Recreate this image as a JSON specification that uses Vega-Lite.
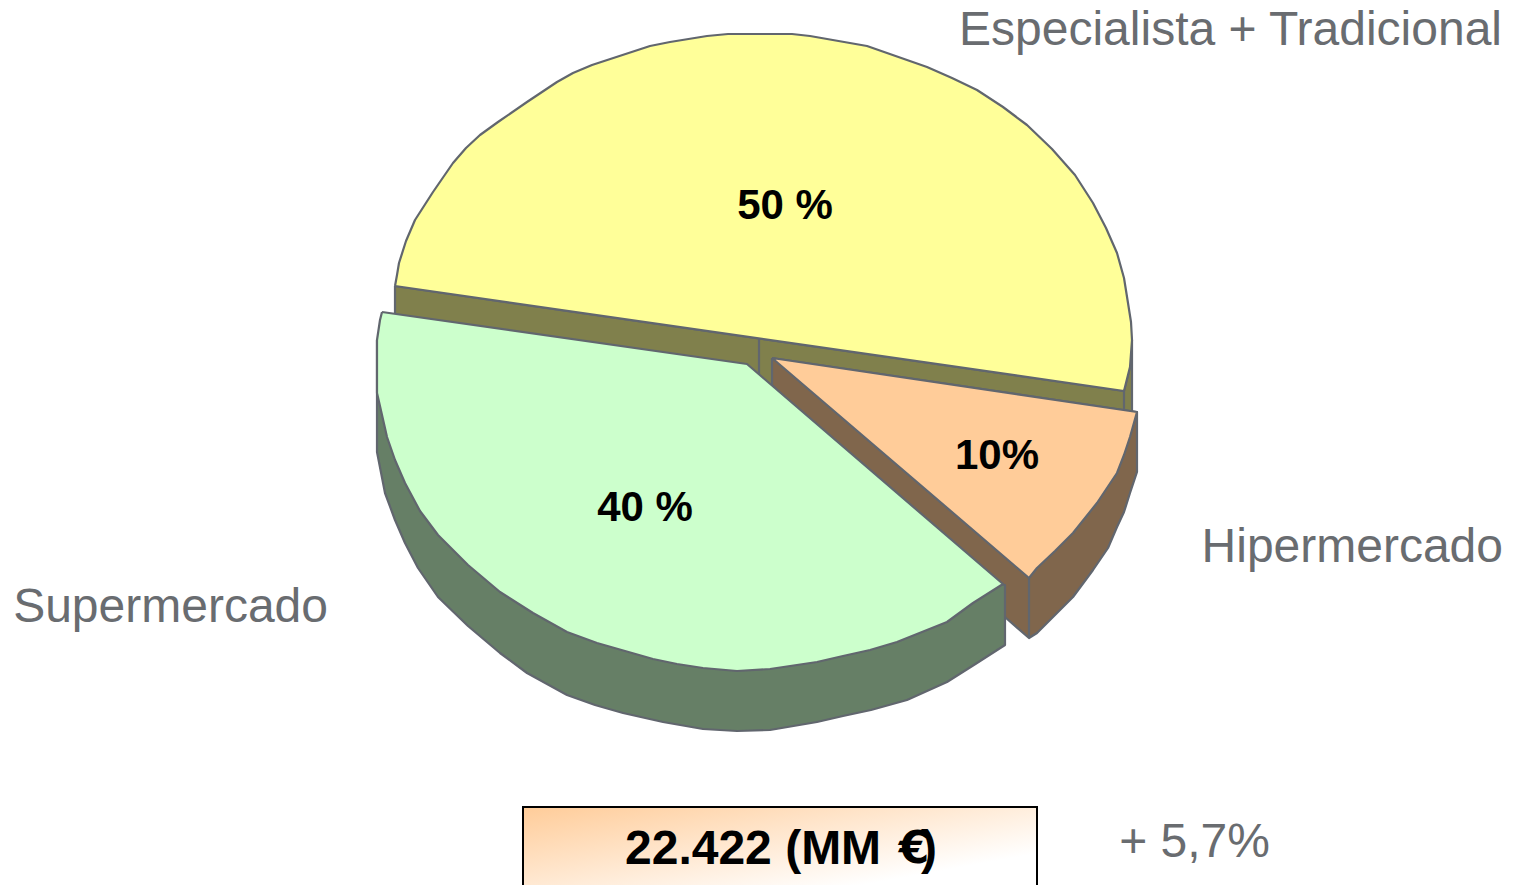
{
"$schema":"https://vega.github.io/schema/vega-lite/v6.json",
"width":1518,"height":885,"padding":0,
"autosize":{"type":"fit","contains":"padding"},
"background":"#ffffff",
"view":{"stroke":null},
"datasets":{
"outlines":[
{"part":"a_yellow_side","seq":1,"x":395,"y":286},{"part":"a_yellow_side","seq":2,"x":1124,"y":391},{"part":"a_yellow_side","seq":3,"x":1130,"y":367},{"part":"a_yellow_side","seq":4,"x":1132,"y":340},{"part":"a_yellow_side","seq":5,"x":1132,"y":415},{"part":"a_yellow_side","seq":6,"x":771,"y":390},{"part":"a_yellow_side","seq":7,"x":759,"y":385},{"part":"a_yellow_side","seq":8,"x":395,"y":346},{"part":"a_yellow_side","seq":9,"x":395,"y":286},
{"part":"b_seam_mid","seq":1,"x":759,"y":338},{"part":"b_seam_mid","seq":2,"x":759,"y":376},
{"part":"c_seam_right","seq":1,"x":1124,"y":391},{"part":"c_seam_right","seq":2,"x":1124,"y":411},
{"part":"d_orange_side","seq":1,"x":772,"y":358},{"part":"d_orange_side","seq":2,"x":772,"y":385},{"part":"d_orange_side","seq":3,"x":1006,"y":618},{"part":"d_orange_side","seq":4,"x":1029,"y":638},{"part":"d_orange_side","seq":5,"x":1037,"y":633},{"part":"d_orange_side","seq":6,"x":1055,"y":615},{"part":"d_orange_side","seq":7,"x":1073,"y":597},{"part":"d_orange_side","seq":8,"x":1093,"y":570},{"part":"d_orange_side","seq":9,"x":1108,"y":548},{"part":"d_orange_side","seq":10,"x":1117,"y":527},{"part":"d_orange_side","seq":11,"x":1124,"y":512},{"part":"d_orange_side","seq":12,"x":1130,"y":493},{"part":"d_orange_side","seq":13,"x":1137,"y":472},{"part":"d_orange_side","seq":14,"x":1137,"y":412},{"part":"d_orange_side","seq":15,"x":772,"y":358},
{"part":"e_seam_front","seq":1,"x":1029,"y":578},{"part":"e_seam_front","seq":2,"x":1029,"y":638},
{"part":"f_green_side","seq":1,"x":377,"y":340},{"part":"f_green_side","seq":2,"x":377,"y":452},{"part":"f_green_side","seq":3,"x":385,"y":493},{"part":"f_green_side","seq":4,"x":395,"y":520},{"part":"f_green_side","seq":5,"x":405,"y":543},{"part":"f_green_side","seq":6,"x":418,"y":568},{"part":"f_green_side","seq":7,"x":438,"y":597},{"part":"f_green_side","seq":8,"x":468,"y":626},{"part":"f_green_side","seq":9,"x":500,"y":653},{"part":"f_green_side","seq":10,"x":527,"y":673},{"part":"f_green_side","seq":11,"x":567,"y":695},{"part":"f_green_side","seq":12,"x":595,"y":705},{"part":"f_green_side","seq":13,"x":623,"y":713},{"part":"f_green_side","seq":14,"x":663,"y":722},{"part":"f_green_side","seq":15,"x":703,"y":729},{"part":"f_green_side","seq":16,"x":737,"y":731},{"part":"f_green_side","seq":17,"x":770,"y":730},{"part":"f_green_side","seq":18,"x":817,"y":722},{"part":"f_green_side","seq":19,"x":843,"y":716},{"part":"f_green_side","seq":20,"x":871,"y":710},{"part":"f_green_side","seq":21,"x":907,"y":700},{"part":"f_green_side","seq":22,"x":927,"y":691},{"part":"f_green_side","seq":23,"x":947,"y":682},{"part":"f_green_side","seq":24,"x":977,"y":663},{"part":"f_green_side","seq":25,"x":1005,"y":645},{"part":"f_green_side","seq":26,"x":1005,"y":585},{"part":"f_green_side","seq":27,"x":900,"y":560},{"part":"f_green_side","seq":28,"x":500,"y":450},{"part":"f_green_side","seq":29,"x":377,"y":340},
{"part":"g_green_top","seq":1,"x":382,"y":312},{"part":"g_green_top","seq":2,"x":747,"y":364},{"part":"g_green_top","seq":3,"x":1003,"y":584},{"part":"g_green_top","seq":4,"x":973,"y":603},{"part":"g_green_top","seq":5,"x":947,"y":622},{"part":"g_green_top","seq":6,"x":922,"y":632},{"part":"g_green_top","seq":7,"x":897,"y":642},{"part":"g_green_top","seq":8,"x":870,"y":650},{"part":"g_green_top","seq":9,"x":843,"y":656},{"part":"g_green_top","seq":10,"x":817,"y":662},{"part":"g_green_top","seq":11,"x":770,"y":669},{"part":"g_green_top","seq":12,"x":737,"y":671},{"part":"g_green_top","seq":13,"x":703,"y":668},{"part":"g_green_top","seq":14,"x":677,"y":664},{"part":"g_green_top","seq":15,"x":653,"y":659},{"part":"g_green_top","seq":16,"x":625,"y":651},{"part":"g_green_top","seq":17,"x":597,"y":643},{"part":"g_green_top","seq":18,"x":567,"y":632},{"part":"g_green_top","seq":19,"x":533,"y":613},{"part":"g_green_top","seq":20,"x":500,"y":592},{"part":"g_green_top","seq":21,"x":468,"y":565},{"part":"g_green_top","seq":22,"x":438,"y":535},{"part":"g_green_top","seq":23,"x":420,"y":511},{"part":"g_green_top","seq":24,"x":405,"y":483},{"part":"g_green_top","seq":25,"x":395,"y":460},{"part":"g_green_top","seq":26,"x":387,"y":437},{"part":"g_green_top","seq":27,"x":377,"y":393},{"part":"g_green_top","seq":28,"x":377,"y":340},{"part":"g_green_top","seq":29,"x":380,"y":320},{"part":"g_green_top","seq":30,"x":382,"y":312},
{"part":"h_orange_top","seq":1,"x":772,"y":358},{"part":"h_orange_top","seq":2,"x":1137,"y":412},{"part":"h_orange_top","seq":3,"x":1130,"y":437},{"part":"h_orange_top","seq":4,"x":1124,"y":455},{"part":"h_orange_top","seq":5,"x":1117,"y":473},{"part":"h_orange_top","seq":6,"x":1097,"y":503},{"part":"h_orange_top","seq":7,"x":1073,"y":533},{"part":"h_orange_top","seq":8,"x":1055,"y":551},{"part":"h_orange_top","seq":9,"x":1037,"y":568},{"part":"h_orange_top","seq":10,"x":1029,"y":578},{"part":"h_orange_top","seq":11,"x":772,"y":358},
{"part":"i_yellow_top","seq":1,"x":395,"y":286},{"part":"i_yellow_top","seq":2,"x":397,"y":275},{"part":"i_yellow_top","seq":3,"x":399,"y":263},{"part":"i_yellow_top","seq":4,"x":406,"y":241},{"part":"i_yellow_top","seq":5,"x":415,"y":220},{"part":"i_yellow_top","seq":6,"x":433,"y":192},{"part":"i_yellow_top","seq":7,"x":453,"y":163},{"part":"i_yellow_top","seq":8,"x":466,"y":148},{"part":"i_yellow_top","seq":9,"x":480,"y":135},{"part":"i_yellow_top","seq":10,"x":498,"y":122},{"part":"i_yellow_top","seq":11,"x":527,"y":102},{"part":"i_yellow_top","seq":12,"x":557,"y":82},{"part":"i_yellow_top","seq":13,"x":573,"y":73},{"part":"i_yellow_top","seq":14,"x":592,"y":65},{"part":"i_yellow_top","seq":15,"x":650,"y":46},{"part":"i_yellow_top","seq":16,"x":670,"y":42},{"part":"i_yellow_top","seq":17,"x":707,"y":36},{"part":"i_yellow_top","seq":18,"x":728,"y":34},{"part":"i_yellow_top","seq":19,"x":792,"y":34},{"part":"i_yellow_top","seq":20,"x":810,"y":36},{"part":"i_yellow_top","seq":21,"x":867,"y":46},{"part":"i_yellow_top","seq":22,"x":927,"y":67},{"part":"i_yellow_top","seq":23,"x":952,"y":78},{"part":"i_yellow_top","seq":24,"x":977,"y":90},{"part":"i_yellow_top","seq":25,"x":1003,"y":107},{"part":"i_yellow_top","seq":26,"x":1027,"y":125},{"part":"i_yellow_top","seq":27,"x":1052,"y":149},{"part":"i_yellow_top","seq":28,"x":1075,"y":175},{"part":"i_yellow_top","seq":29,"x":1093,"y":203},{"part":"i_yellow_top","seq":30,"x":1106,"y":228},{"part":"i_yellow_top","seq":31,"x":1117,"y":253},{"part":"i_yellow_top","seq":32,"x":1124,"y":278},{"part":"i_yellow_top","seq":33,"x":1128,"y":303},{"part":"i_yellow_top","seq":34,"x":1131,"y":322},{"part":"i_yellow_top","seq":35,"x":1132,"y":340},{"part":"i_yellow_top","seq":36,"x":1130,"y":367},{"part":"i_yellow_top","seq":37,"x":1124,"y":391},{"part":"i_yellow_top","seq":38,"x":395,"y":286}
],
"categories":[
{"label":"Especialista + Tradicional","x":1502,"y":31},
{"label":"Hipermercado","x":1503,"y":548},
{"label":"Supermercado","x":328,"y":608},
{"label":"+ 5,7%","x":1270,"y":843}
],
"shares":[
{"label":"50 %","x":785,"y":206},
{"label":"40 %","x":645,"y":508},
{"label":"10%","x":997,"y":456}
],
"total":[{"x":523,"x2":1037,"y":807,"y2":900}],
"totalText":[
{"label":"22.422 (MM","x":625,"y":850,"side":"left"},
{"label":")","x":937,"y":850,"side":"right"}
],
"currency":[{"label":"€","x":914,"y":850}]
},
"encoding":{
"x":{"field":"x","type":"quantitative","axis":null,"scale":{"domain":[0,1518],"nice":false,"zero":false}},
"y":{"field":"y","type":"quantitative","axis":null,"scale":{"domain":[885,0],"nice":false,"zero":false}}
},
"layer":[
{"data":{"name":"outlines"},
"mark":{"type":"line","stroke":"#61666e","strokeWidth":2.2,"strokeJoin":"round","interpolate":"linear"},
"encoding":{
"order":{"field":"seq","type":"quantitative"},
"detail":{"field":"part"},
"fill":{"field":"part","type":"nominal","legend":null,"scale":{
"domain":["a_yellow_side","b_seam_mid","c_seam_right","d_orange_side","e_seam_front","f_green_side","g_green_top","h_orange_top","i_yellow_top"],
"range":["#80804c","#80804c","#80804c","#80664c","#80664c","#667f66","#ccffcc","#ffcc99","#ffff99"]}}
}},
{"data":{"name":"categories"},
"mark":{"type":"text","font":"Liberation Sans","fontSize":48,"align":"right","baseline":"middle","color":"#696c70"},
"encoding":{"text":{"field":"label"}}},
{"data":{"name":"shares"},
"mark":{"type":"text","font":"Liberation Sans","fontSize":42,"fontWeight":"bold","align":"center","baseline":"middle","color":"#000000"},
"encoding":{"text":{"field":"label"}}},
{"data":{"name":"total"},
"mark":{"type":"rect","clip":true,"stroke":"#000000","strokeWidth":2,
"fill":{"x1":0,"y1":0,"x2":1,"y2":1,"gradient":"linear","stops":[{"offset":0,"color":"#ffcc99"},{"offset":0.75,"color":"#ffffff"}]}},
"encoding":{"x2":{"field":"x2"},"y2":{"field":"y2"}}},
{"data":{"name":"totalText"},"transform":[{"filter":"datum.side==='left'"}],
"mark":{"type":"text","font":"Liberation Sans","fontSize":48,"fontWeight":"bold","align":"left","baseline":"middle","color":"#000000"},
"encoding":{"text":{"field":"label"}}},
{"data":{"name":"totalText"},"transform":[{"filter":"datum.side==='right'"}],
"mark":{"type":"text","font":"Liberation Sans","fontSize":48,"fontWeight":"bold","align":"right","baseline":"middle","color":"#000000"},
"encoding":{"text":{"field":"label"}}},
{"data":{"name":"currency"},
"mark":{"type":"text","font":"DejaVu Sans","fontSize":44,"fontWeight":"bold","align":"center","baseline":"middle","color":"#000000"},
"encoding":{"text":{"field":"label"}}}
]
}
